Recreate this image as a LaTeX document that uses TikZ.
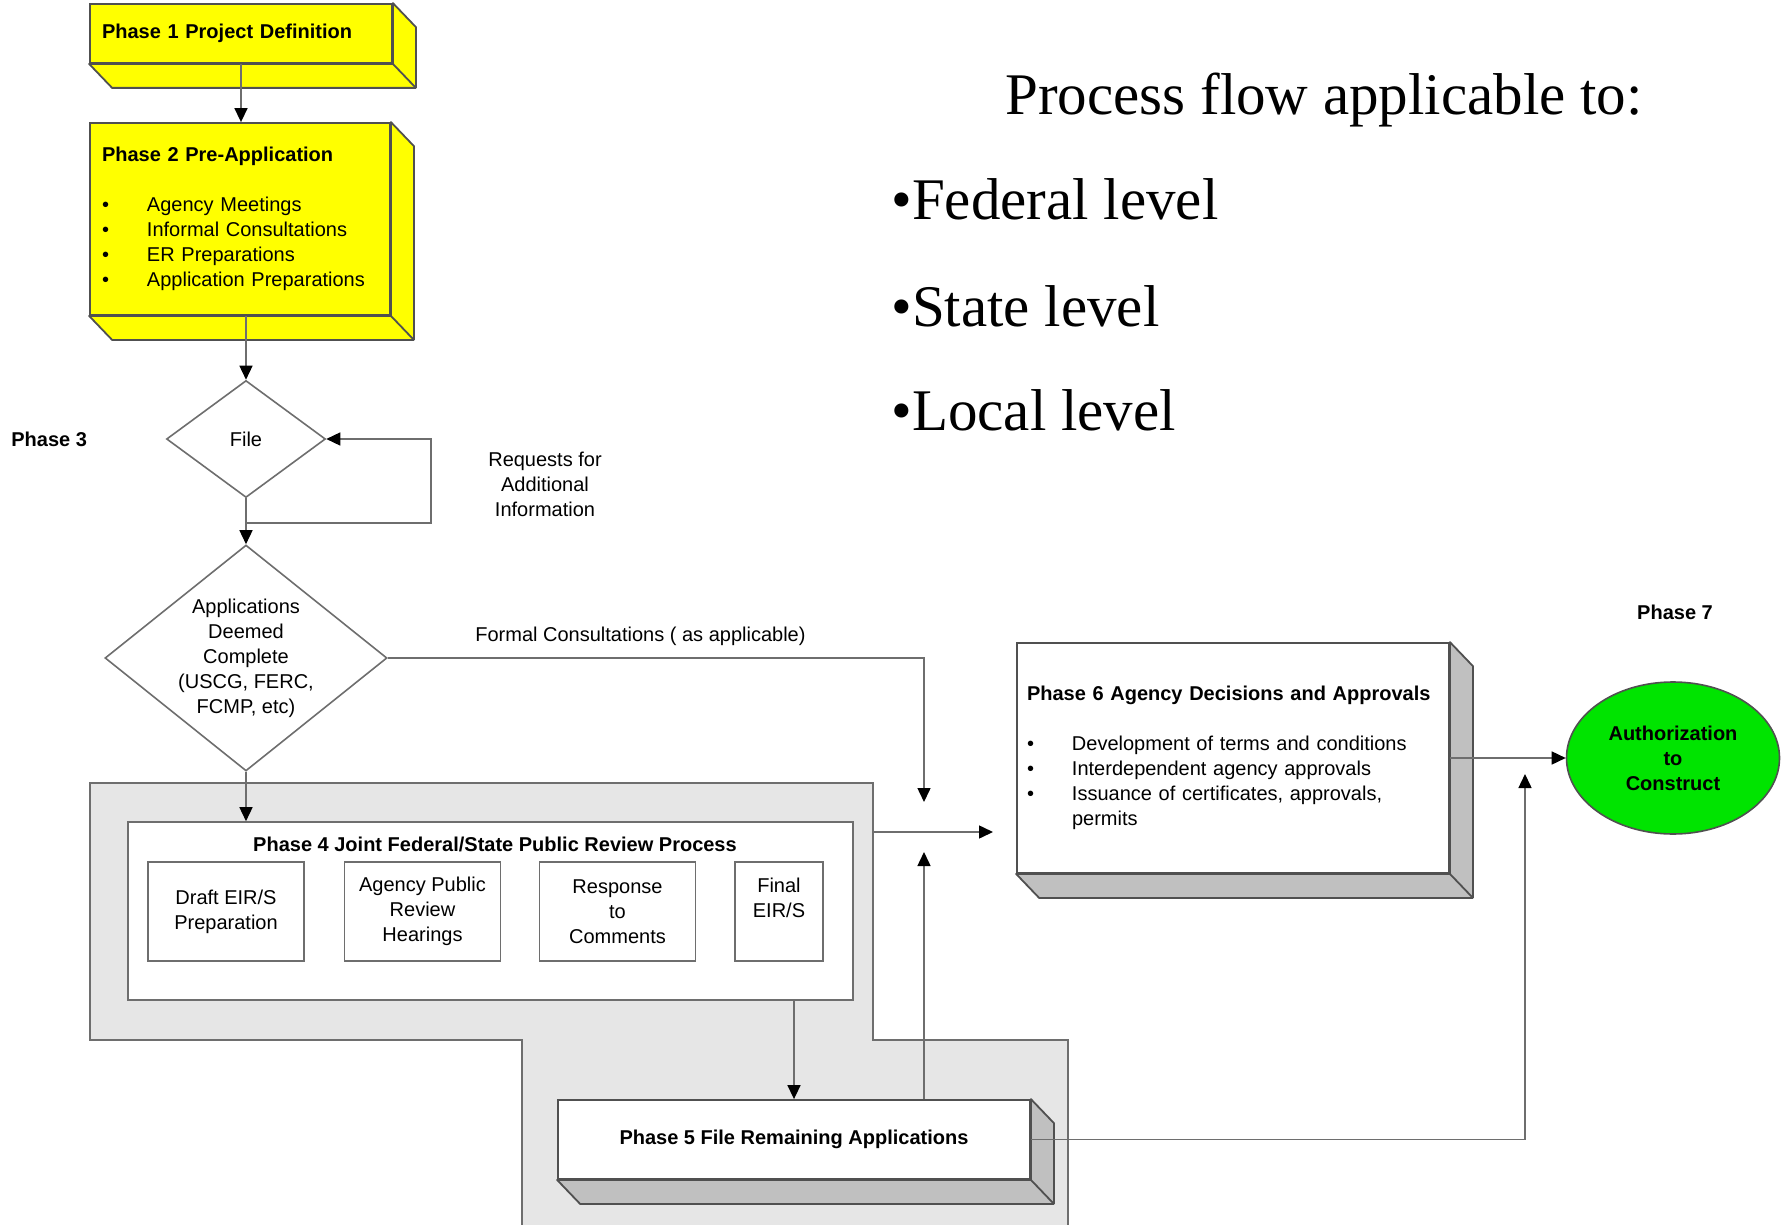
\documentclass[tikz,border=0pt]{standalone}
\usepackage{fontspec}
\setmainfont{Liberation Sans}
\newfontfamily\serifbig{Liberation Serif}
\usetikzlibrary{shapes.geometric,arrows.meta}
\definecolor{phase yellow}{RGB}{255,255,0}
\definecolor{auth green}{RGB}{0,228,0}
\definecolor{region gray}{RGB}{230,230,230}
\definecolor{side gray}{RGB}{192,192,192}
\definecolor{edge gray}{RGB}{80,80,80}
\definecolor{line gray}{RGB}{110,110,110}
\tikzset{my text/.style={font=\fontsize{10pt}{12.5pt}\selectfont, inner sep=0pt},
my phase box/.style={my text, draw=edge gray, line width=0.9pt, inner xsep=6pt, inner ysep=0pt, align=left},
my step box/.style={my text, draw=line gray, line width=0.8pt, fill=white, minimum height=49.5pt, align=center},
my diamond/.style={my text, diamond, draw=line gray, line width=0.8pt, fill=white, inner sep=-3pt, align=center},
my ellipse/.style={my text, ellipse, draw=edge gray, line width=0.8pt, fill=auth green, minimum width=106.5pt, minimum height=76pt, align=center},
my region/.style={fill=region gray, draw=line gray, line width=0.75pt},
my arrow/.style={draw=line gray, line width=0.75pt, -{Triangle[length=7pt, width=6.5pt, color=black]}},
my big text/.style={font=\serifbig\fontsize{29.5pt}{36pt}\selectfont, anchor=base west, inner sep=0pt},}
\newcommand{\phasedepth}[2]{%
\filldraw [fill=#2, draw=edge gray, line width=0.9pt, line join=round] (#1.north east) -- ++(23,24) -- ([shift={(23,24)}]#1.south east) -- ([shift={(23,24)}]#1.south west) -- (#1.south west) -- (#1.south east) -- cycle;
\draw [edge gray, line width=0.9pt] (#1.south east) -- ++(23,24);}
\newcommand{\phasebullet}{\makebox[22.5pt][l]{\textbullet}}

\begin{document}
\begin{tikzpicture}[x=0.5pt, y=-0.5pt]
\useasboundingbox (0,0) rectangle (1783,1225);
\filldraw [my region] (90,783) -- (873,783) -- (873,1040) -- (1068,1040) -- (1068,1240) -- (522,1240) -- (522,1040) -- (90,1040) -- cycle;

\node [my phase box, fill=phase yellow, minimum width=151pt, minimum height=29.5pt, text width=139pt] (p1) at (241, 33.5) {\textbf{Phase 1 Project Definition}};
\phasedepth{p1}{phase yellow}
\node [my phase box, fill=phase yellow, minimum width=150pt, minimum height=96pt, text width=138pt] (p2) at (240, 219) {\textbf{Phase 2 Pre-Application}\\[12.5pt]
\phasebullet Agency Meetings\\
\phasebullet Informal Consultations\\
\phasebullet ER Preparations\\
\phasebullet Application Preparations};
\phasedepth{p2}{phase yellow}

\node [my text, anchor=west] (p3) at (11, 439) {\textbf{Phase 3}};
\node [my diamond, minimum width=79.5pt, minimum height=58.5pt] (file) at (246, 439) {File};
\node [my diamond, minimum width=141pt, minimum height=113pt, aspect=1.25] (apps) at (246, 658) {Applications\\Deemed\\Complete\\(USCG, FERC,\\FCMP, etc)};
\node [my text, align=center] (req) at (545, 484) {Requests for\\Additional\\Information};
\node [my text, anchor=west] (formal) at (475, 636) {Formal Consultations ( as applicable)};

\node [my text, draw=line gray, line width=0.8pt, fill=white, minimum width=362.5pt, minimum height=89pt] (p4) at (490.5, 911) {};
\node [my text] (p4title) at (495, 844) {\textbf{Phase 4 Joint Federal/State Public Review Process}};
\node [my step box, minimum width=78pt] (draft) at (226, 911.5) {Draft EIR/S\\Preparation};
\node [my step box, minimum width=78pt] (hear) at (422.5, 911.5) {Agency Public\\Review\\Hearings};
\node [my step box, minimum width=78pt] (resp) at (617.5, 911.5) {Response\\to\\Comments};
\node [my step box, minimum width=44pt, text depth=13.9pt] (final) at (779, 911.5) {Final\\EIR/S};

\node [my phase box, fill=white, minimum width=236pt, minimum height=39.5pt, align=center] (p5) at (794, 1139.5) {\textbf{Phase 5 File Remaining Applications}};
\phasedepth{p5}{side gray}
\node [my phase box, fill=white, minimum width=216pt, minimum height=115pt, inner xsep=5pt, text width=206pt] (p6) at (1233, 758) {\textbf{Phase 6 Agency Decisions and Approvals}\\[12.5pt]
\phasebullet Development of terms and conditions\\
\phasebullet Interdependent agency approvals\\
\phasebullet Issuance of certificates, approvals,\\
\hspace*{22.5pt}permits};
\phasedepth{p6}{side gray}

\node [my text] (p7) at (1675, 612) {\textbf{Phase 7}};
\node [my ellipse] (auth) at (1673, 758) {\textbf{Authorization}\\\textbf{to}\\\textbf{Construct}};

\node [my big text] (flowhead) at (1005, 115) {Process flow applicable to:};
\node [my big text] (federal) at (891, 220) {\textbullet Federal level};
\node [my big text] (state) at (891, 327) {\textbullet State level};
\node [my big text] (local) at (891, 430) {\textbullet Local level};

\coordinate (loopcorner) at (431, 523);
\coordinate (formaltip) at (924, 802);
\coordinate (p4out) at (873, 832);
\coordinate (p6in) at (993, 832);
\coordinate (uptip) at (924, 852);
\coordinate (authtip) at (1525, 774);

\draw [my arrow] (p1.south) -- (p1.south |- p2.north);
\draw [my arrow] (p2.south -| file.north) -- (file.north);
\draw [my arrow] (file.south) -- (apps.north);
\draw [my arrow] (file.south |- loopcorner) -- (loopcorner) |- (file.east);
\draw [my arrow] (apps.south) -- (apps.south |- p4.north);
\draw [my arrow] (apps.east) -| (formaltip);
\draw [my arrow] (p4out) -- (p6in);
\draw [my arrow] (p4.south -| p5.north) -- (p5.north);
\draw [my arrow] (p5.north -| uptip) -- (uptip);
\draw [my arrow] (p5.east) -| (authtip);
\draw [my arrow] (p6.east) -- (auth.west);
\end{tikzpicture}
\end{document}
